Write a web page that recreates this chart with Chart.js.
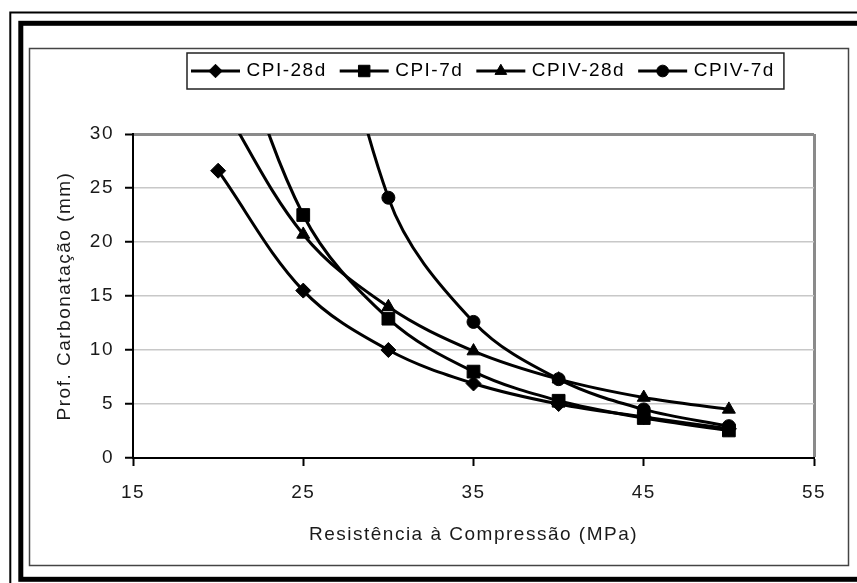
<!DOCTYPE html>
<html>
<head>
<meta charset="utf-8">
<script src="https://cdn.jsdelivr.net/npm/chart.js@4.4.0/dist/chart.umd.min.js"></script>
<style>
  html, body { margin: 0; padding: 0; background: #fff; }
  #wrap { width: 857px; height: 583px; }
</style>
</head>
<body>
<div id="wrap"><canvas id="chart"></canvas></div>
<script>
// Data (first points of the 7d / CPIV-28d series lie above the 30 mm limit)

const resistencia = [20, 25, 30, 35, 40, 45, 50];
const cpi28  = [26.6, 15.5, 10.0, 6.9, 5.0, 3.8, 2.7];
const cpi7   = [44.0, 22.5, 12.9, 8.0, 5.3, 3.7, 2.55];
const cpiv28 = [33.4, 20.7, 14.0, 9.9, 7.3, 5.6, 4.5];
const cpiv7  = [null, 57.0, 24.1, 12.6, 7.3, 4.5, 2.95];

const seriesNames = ['CPI-28d', 'CPI-7d', 'CPIV-28d', 'CPIV-7d'];
const xTicks = [15, 25, 35, 45, 55];
const yMin = 0, yMax = 30, yStep = 5;

const FONT = "'Liberation Sans', Arial, sans-serif";
const TXT = '#1a1a1a';

const toPoints = ys => resistencia
  .map((x, i) => ({ x, y: ys[i] }))
  .filter(p => p.y !== null);

// Styles

const styles = [
  { pointStyle: 'rectRot',  pointRadius: 7.5 },
  { pointStyle: 'rect',     pointRadius: 9 },
  { pointStyle: 'triangle', pointRadius: 7.5 },
  { pointStyle: 'circle',   pointRadius: 6.5 }
];

const datasets = [cpi28, cpi7, cpiv28, cpiv7].map((ys, i) => ({
  label: seriesNames[i],
  data: toPoints(ys),
  borderColor: '#000',
  borderWidth: 3,
  backgroundColor: '#000',
  pointBackgroundColor: '#000',
  pointBorderColor: '#000',
  pointBorderWidth: 1,
  pointStyle: styles[i].pointStyle,
  pointRadius: styles[i].pointRadius,
  tension: 0.35,
  fill: false
}));

// Frames, legend box and legend markers

const framePlugin = {
  id: 'framePlugin',
  beforeLayout(chart) {
    chart.ctx.letterSpacing = '1.5px';
  },
  afterLayout(chart) {
    const lg = chart.legend;
    if (!lg || !lg.lineWidths) return;
    const pad = lg.options.labels.padding;
    const start = (lg.left + pad + lg.right - lg.lineWidths[0]) / 2;
    const dx = 191 - start;
    const dy = 48.5 - lg.top;
    lg.left += dx; lg.right += dx;
    lg.top += dy; lg.bottom += dy;
  },
  beforeDraw(chart) {
    const ctx = chart.ctx;
    ctx.letterSpacing = '1.5px';
    ctx.save();
    ctx.letterSpacing = '0px';
    ctx.fillStyle = '#fff';
    ctx.fillRect(0, 0, chart.width, chart.height);
    ctx.strokeStyle = '#000';
    // thin outer line
    ctx.lineWidth = 2;
    ctx.beginPath();
    ctx.moveTo(10.3, chart.height);
    ctx.lineTo(10.3, 12.5);
    ctx.lineTo(chart.width, 12.5);
    ctx.stroke();
    // thick frame
    ctx.lineWidth = 5;
    ctx.strokeRect(20.8, 23.3, 900, 556);
    // chart frame
    ctx.lineWidth = 1.5;
    ctx.strokeStyle = '#444';
    ctx.strokeRect(29.5, 48.5, 819, 517);
    ctx.restore();
  },
  afterDraw(chart) {
    const ctx = chart.ctx;
    const lg = chart.legend;
    const boxes = lg.legendHitBoxes;
    if (!boxes || !boxes.length) return;
    ctx.save();
    ctx.strokeStyle = '#000';
    ctx.fillStyle = '#000';
    boxes.forEach((hb, i) => {
      const ds = chart.data.datasets[i];
      const cy = hb.top + hb.height / 2;
      ctx.lineWidth = 3;
      ctx.beginPath();
      ctx.moveTo(hb.left, cy);
      ctx.lineTo(hb.left + 49, cy);
      ctx.stroke();
      ctx.lineWidth = 1;
      Chart.helpers.drawPoint(ctx, {
        pointStyle: ds.pointStyle,
        radius: ds.pointRadius * 0.9,
        borderWidth: 1,
        rotation: 0
      }, hb.left + 24.5, cy);
    });
    const first = boxes[0], last = boxes[boxes.length - 1];
    const cy = first.top + first.height / 2;
    ctx.lineWidth = 1.5;
    ctx.strokeStyle = '#222';
    ctx.strokeRect(first.left - 4, cy - 18, (last.left + last.width + 9) - (first.left - 4), 36);
    ctx.restore();
  }
};

// Chart

new Chart(document.getElementById('chart'), {
  type: 'line',
  data: { datasets },
  plugins: [framePlugin],
  options: {
    responsive: true,
    maintainAspectRatio: false,
    animation: false,
    events: [],
    layout: { padding: { top: 92, right: 43, bottom: 0, left: 0 } },
    elements: { line: { capBezierPoints: false } },
    plugins: {
      tooltip: { enabled: false },
      legend: {
        position: 'top',
        labels: {
          boxWidth: 46,
          padding: 13,
          color: TXT,
          font: { family: FONT, size: 19 },
          generateLabels: chart => chart.data.datasets.map((ds, i) => ({
            text: ds.label,
            fillStyle: 'rgba(0,0,0,0)',
            strokeStyle: 'rgba(0,0,0,0)',
            lineWidth: 0,
            datasetIndex: i,
            hidden: false
          }))
        }
      }
    },
    scales: {
      x: {
        type: 'linear',
        min: xTicks[0],
        max: xTicks[xTicks.length - 1],
        afterBuildTicks: s => { s.ticks = xTicks.map(v => ({ value: v })); },
        afterFit: s => { s.height = 125; },
        ticks: {
          color: TXT,
          font: { family: FONT, size: 19 },
          padding: 15,
          maxRotation: 0,
          autoSkip: false
        },
        grid: {
          color: c => (c.tick && c.tick.value === 55) ? '#8a8a8a' : 'rgba(0,0,0,0)',
          lineWidth: c => (c.tick && c.tick.value === 55) ? 3 : 1,
          tickColor: '#000',
          tickLength: 8,
          tickWidth: 2
        },
        border: { color: '#000', width: 2 },
        title: {
          display: true,
          text: 'Resistência à Compressão (MPa)',
          color: TXT,
          font: { family: FONT, size: 19 },
          padding: { top: 0, bottom: 37 }
        }
      },
      y: {
        min: yMin,
        max: yMax,
        afterFit: s => { s.width = 133; },
        ticks: {
          stepSize: yStep,
          color: TXT,
          font: { family: FONT, size: 19 },
          padding: 11
        },
        grid: {
          color: c => {
            if (!c.tick) return 'rgba(0,0,0,0)';
            if (c.tick.value === yMax) return '#8a8a8a';
            if (c.tick.value === yMin) return 'rgba(0,0,0,0)';
            return '#c8c8c8';
          },
          lineWidth: c => (c.tick && c.tick.value === yMax) ? 3 : 1.5,
          tickColor: '#000',
          tickLength: 8,
          tickWidth: 2
        },
        border: { color: '#000', width: 2 },
        title: {
          display: true,
          text: 'Prof. Carbonatação (mm)',
          color: TXT,
          font: { family: FONT, size: 19 },
          padding: { top: 53, bottom: 0 }
        }
      }
    }
  }
});
</script>
</body>
</html>
